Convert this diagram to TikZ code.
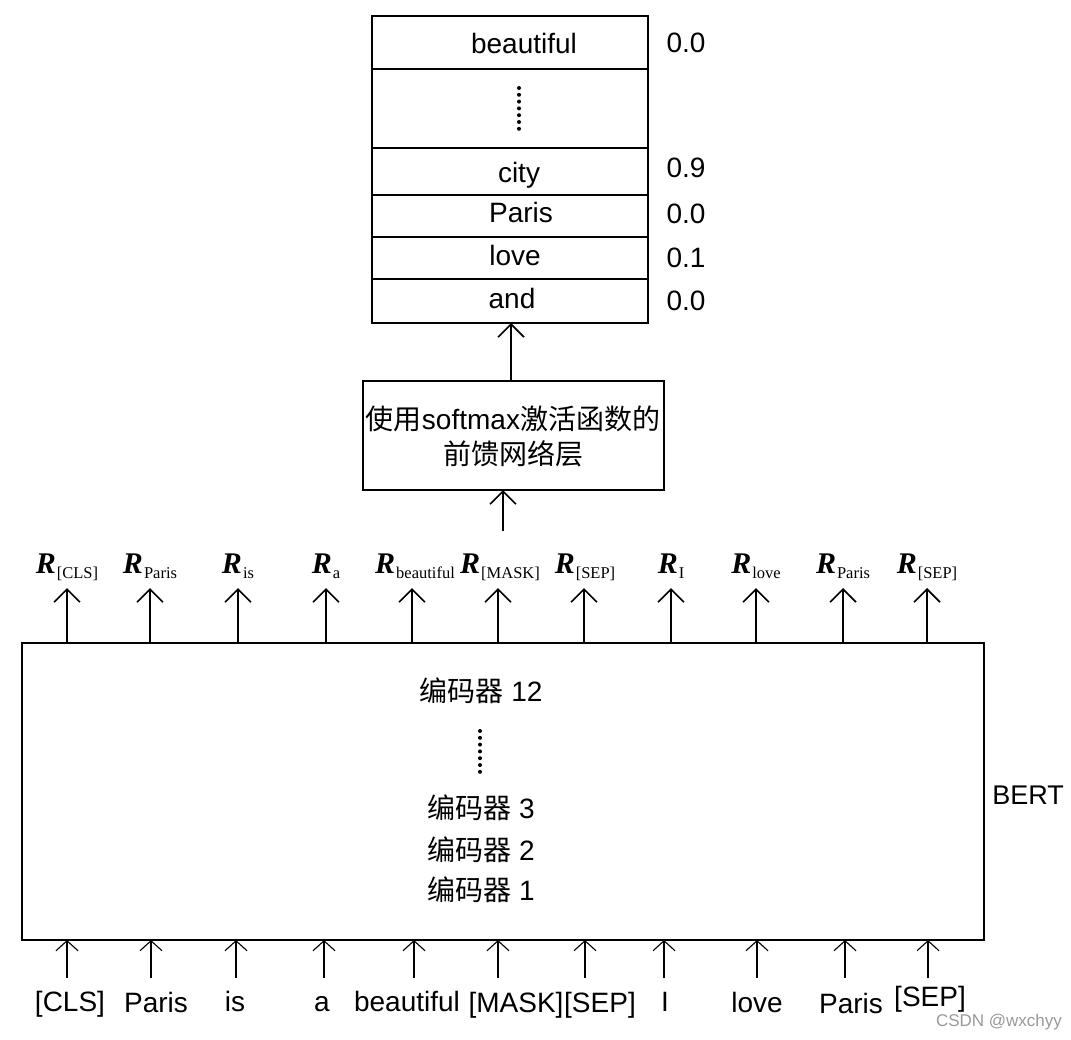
\documentclass[tikz,border=0pt]{standalone}
\usepackage{fontspec}
\setmainfont{Liberation Sans}
\newfontfamily\cjk{Noto Sans CJK SC}
\newfontfamily\tms{Liberation Serif}
\usetikzlibrary{arrows.meta}
\newcommand\fs[1]{\fontsize{#1}{#1}\selectfont}
\newcommand\Rl[1]{{\tms\fs{30}\bfseries\itshape R}\kern1pt\raisebox{-5pt}{\tms\fs{16.5}#1}}
\tikzset{
  box/.style={draw, line width=1.6pt, inner sep=0pt, outer sep=0pt, anchor=north west},
  uparrow/.style={line width=1.8pt, -{Straight Barb[length=13pt,width=26pt,line width=1.6pt]}},
  inarrow/.style={line width=1.1pt, -{Straight Barb[length=10pt,width=22pt,line width=1.1pt]}},
  lbl/.style={font=\fs{28}, anchor=base, inner sep=0pt},
  enc/.style={font=\fs{28}, inner sep=0pt},
  dots/.style={line width=4pt, line cap=round, dash pattern=on 0pt off 6.8pt}
}
\begin{document}
\begin{tikzpicture}[x=1pt,y=-1pt]
\useasboundingbox (0,0) rectangle (1071,1039);
% output table
\node[box, minimum width=276pt, minimum height=53pt] (t1) at (372,16) {};
\node[box, minimum width=276pt, minimum height=79pt] (t2) at (372,69) {};
\node[box, minimum width=276pt, minimum height=47pt] (t3) at (372,148) {};
\node[box, minimum width=276pt, minimum height=42pt] (t4) at (372,195) {};
\node[box, minimum width=276pt, minimum height=42pt] (t5) at (372,237) {};
\node[box, minimum width=276pt, minimum height=44pt] (t6) at (372,279) {};
\node[lbl] (w1) at (524,53) {beautiful};
\draw[dots] (519,88) -- (519,131);
\node[lbl] (w3) at (519,182) {city};
\node[lbl] (w4) at (521,222) {Paris};
\node[lbl] (w5) at (515,265) {love};
\node[lbl] (w6) at (512,308) {and};
\node[lbl] (p1) at (686,52) {0.0};
\node[lbl] (p3) at (686,177) {0.9};
\node[lbl] (p4) at (686,223) {0.0};
\node[lbl] (p5) at (686,267) {0.1};
\node[lbl] (p6) at (686,310) {0.0};
% feed-forward layer
\node[box, minimum width=301pt, minimum height=109pt] (ffn) at (363,381) {};
\node[font=\fontsize{28}{35}\selectfont, align=center, inner sep=0pt] (ffnt) at (513,436)
  {{\cjk 使用}softmax{\cjk 激活函数的}\\{\cjk 前馈网络层}};
\coordinate (ffntop) at (511,381);
\draw[uparrow] (ffntop) -- (ffntop |- t6.south);
\coordinate (ffnin) at (503,531);
\draw[uparrow] (ffnin) -- (ffnin |- ffn.south);
% BERT
\node[box, minimum width=962pt, minimum height=297pt] (bert) at (22,643) {};
\node[enc] (e12) at (481,691) {{\cjk 编码器} 12};
\draw[dots] (480,731) -- (480,772);
\node[enc] (e3) at (481,808) {{\cjk 编码器} 3};
\node[enc] (e2) at (481,850) {{\cjk 编码器} 2};
\node[enc] (e1) at (481,890) {{\cjk 编码器} 1};
\node[font=\fs{27}, inner sep=0pt] (bertl) at (1028,795) {BERT};
% outputs
\foreach \x/\s [count=\i] in {67/{[CLS]},150/Paris,238/is,326/a,415/beautiful,500/{[MASK]},585/{[SEP]},671/I,756/love,843/Paris,927/{[SEP]}} {
  \node[anchor=base, inner sep=0pt] (R\i) at (\x,573) {\Rl{\s}};
  \coordinate (Rt\i) at (\x,588);
}
\foreach \x [count=\i] in {67,150,238,326,412,498,584,671,756,843,927} {
  \coordinate (Ra\i) at (\x,588);
  \draw[uparrow] (Ra\i |- bert.north) -- (Ra\i);
}
% inputs
\foreach \x/\lx/\by/\s [count=\i] in {67/70/1011/{[CLS]},151/156/1012/Paris,236/235/1011/is,324/322/1011/a,414/407/1011/beautiful,498/516/1012/{[MASK]},585/600/1012/{[SEP]},664/665/1011/I,757/757/1012/love,845/851/1013/Paris,928/930/1006/{[SEP]}} {
  \node[lbl] (in\i) at (\lx,\by) {\s};
  \coordinate (ib\i) at (\x,978);
  \draw[inarrow] (ib\i) -- (ib\i |- bert.south);
}
\node[font=\fs{17}, text=black!40, inner sep=0pt] (wm) at (999,1022) {CSDN @wxchyy};
\end{tikzpicture}
\end{document}
